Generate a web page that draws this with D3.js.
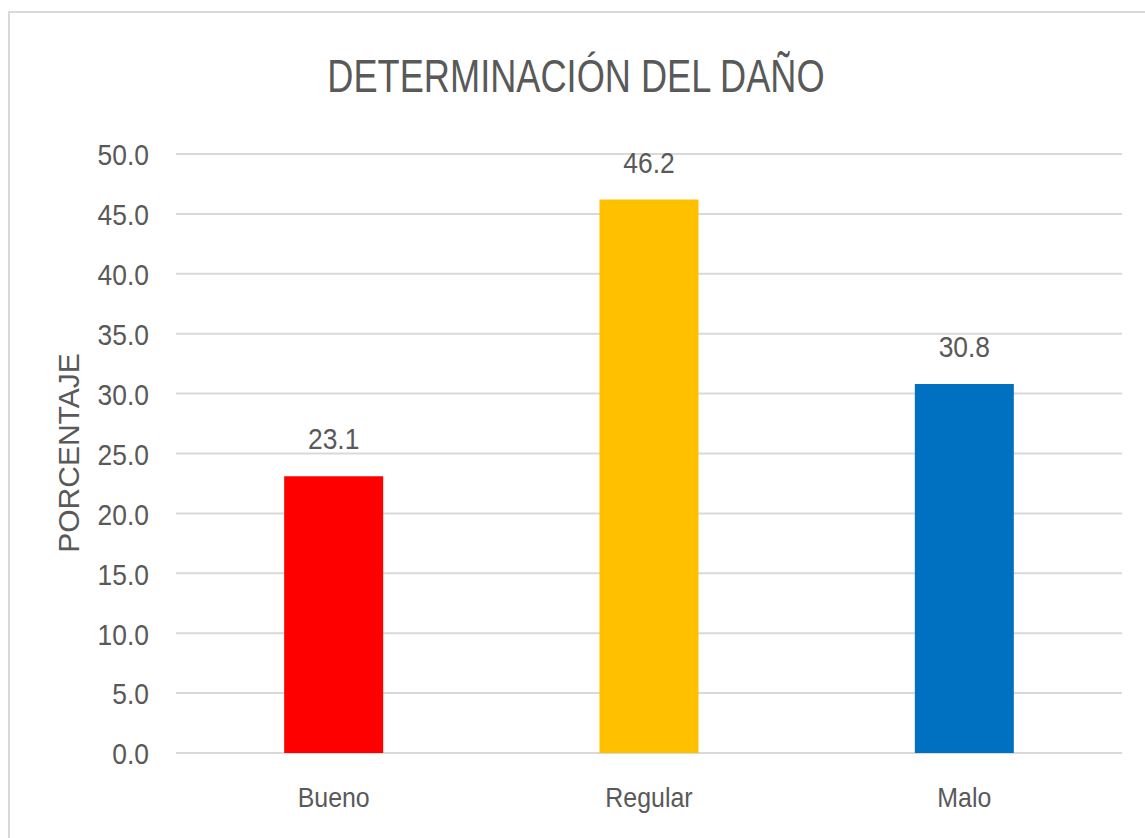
<!DOCTYPE html>
<html lang="es">
  <head>
    <meta charset="UTF-8" />
    <title>Determinación del daño</title>
    <script src="https://cdnjs.cloudflare.com/ajax/libs/d3/7.8.5/d3.min.js"></script>
    <style>
      body {
        margin: 0;
        background: #fff;
      }
      svg {
        display: block;
      }
      .lbl {
        font-family: 'Liberation Sans', Arial, sans-serif;
        fill: #595959;
      }
    </style>
  </head>
  <body>
    <svg width="1145" height="838"></svg>
    <script>
      // Datos
      const categories = ['Bueno', 'Regular', 'Malo'];
      const values = [23.1, 46.2, 30.8];
      const colors = ['#ff0000', '#ffc000', '#0070c0'];
      const yTicks = [0, 5, 10, 15, 20, 25, 30, 35, 40, 45, 50];

      const svg = d3.select('svg');

      // squeeze text horizontally (original font is a narrow one)
      function condense(sel, k) {
        sel.each(function () {
          const w = this.getComputedTextLength();
          d3.select(this).attr('textLength', w * k).attr('lengthAdjust', 'spacingAndGlyphs');
        });
      }

      // Chart border
      svg
        .append('rect')
        .attr('x', 9)
        .attr('y', 12)
        .attr('width', 1150)
        .attr('height', 840)
        .attr('fill', '#fff')
        .attr('stroke', '#d9d9d9')
        .attr('stroke-width', 2);

      const plotLeft = 176,
        plotRight = 1122,
        plotTop = 154,
        plotBottom = 753;

      const x = d3
        .scaleBand()
        .domain(categories)
        .range([plotLeft, plotRight])
        .paddingInner(0.686)
        .paddingOuter(0.343);
      const y = d3.scaleLinear().domain([0, 50]).range([plotBottom, plotTop]);

      // Gridlines
      svg
        .append('g')
        .selectAll('line')
        .data(yTicks)
        .join('line')
        .attr('x1', plotLeft)
        .attr('x2', plotRight)
        .attr('y1', d => y(d))
        .attr('y2', d => y(d))
        .attr('stroke', '#d9d9d9')
        .attr('stroke-width', 2);

      // Y axis labels
      const yAxis = svg
        .append('g')
        .attr('transform', `translate(${plotLeft - 27},0)`)
        .call(d3.axisLeft(y).tickValues(yTicks).tickFormat(d3.format('.1f')).tickSize(0).tickPadding(0));
      yAxis.select('.domain').remove();
      yAxis
        .selectAll('text')
        .attr('class', 'lbl')
        .attr('font-size', 30)
        .attr('dy', '0.36em')
        .call(condense, 0.88);

      // Bars
      svg
        .append('g')
        .selectAll('rect')
        .data(values)
        .join('rect')
        .attr('x', (d, i) => x(categories[i]))
        .attr('width', x.bandwidth())
        .attr('y', d => y(d))
        .attr('height', d => y(0) - y(d))
        .attr('fill', (d, i) => colors[i]);

      // Value labels
      svg
        .append('g')
        .selectAll('text')
        .data(values)
        .join('text')
        .attr('class', 'lbl')
        .attr('font-size', 30)
        .attr('text-anchor', 'middle')
        .attr('x', (d, i) => x(categories[i]) + x.bandwidth() / 2)
        .attr('y', d => y(d) - 27)
        .text(d => d.toFixed(1))
        .call(condense, 0.88);

      // X axis labels
      const xAxis = svg
        .append('g')
        .attr('transform', `translate(0,${plotBottom})`)
        .call(d3.axisBottom(x).tickSize(0).tickPadding(0));
      xAxis.select('.domain').remove();
      xAxis
        .selectAll('text')
        .attr('class', 'lbl')
        .attr('font-size', 28)
        .attr('dy', 0)
        .attr('y', 54)
        .call(condense, 0.89);

      // Y axis title
      svg
        .append('text')
        .attr('class', 'lbl')
        .attr('transform', 'translate(79,453) rotate(-90)')
        .attr('text-anchor', 'middle')
        .attr('font-size', 30)
        .text('PORCENTAJE');

      // Title
      svg
        .append('text')
        .attr('class', 'lbl')
        .attr('x', 576)
        .attr('y', 92)
        .attr('text-anchor', 'middle')
        .attr('font-size', 47)
        .text('DETERMINACIÓN DEL DAÑO')
        .call(condense, 0.77);
    </script>
  </body>
</html>
